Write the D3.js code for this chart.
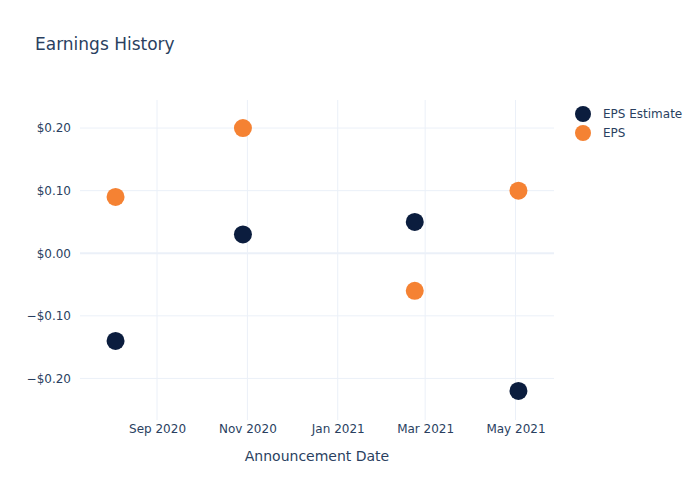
<!DOCTYPE html>
<html><head><meta charset="utf-8">
<script src="https://cdn.jsdelivr.net/npm/d3@7"></script>
<style>body{margin:0;background:#fff}svg{font-family:"DejaVu Sans",Verdana,sans-serif}</style>
</head><body><svg id="c" width="700" height="500"></svg>
<script>
const dates = ["2020-08-04","2020-10-29","2021-02-22","2021-05-03"];
const epsEstimate = [-0.14, 0.03, 0.05, -0.22];
const eps = [0.09, 0.20, -0.06, 0.10];
const seriesNames = ["EPS Estimate","EPS"];
const colors = ["#0b1d3e","#f58233"];
const xTicks = ["2020-09-01","2020-11-01","2021-01-01","2021-03-01","2021-05-01"];
const yTicks = [-0.2,-0.1,0,0.1,0.2];

const parse = d3.utcParse("%Y-%m-%d");
const svg = d3.select("#c");
const L=80,R=554,T=100,B=420;
const x = d3.scaleUtc().domain([parse("2020-07-11"), parse("2021-05-27")]).range([L,R]);
const y = d3.scaleLinear().domain([-0.2664,0.2448]).range([B,T]);
const grid="#ebf0f8", txt="#2a3f5f";

// grid
svg.append("g").selectAll("line").data(xTicks).join("line")
  .attr("x1",d=>x(parse(d))).attr("x2",d=>x(parse(d))).attr("y1",T).attr("y2",B)
  .attr("stroke",grid).attr("stroke-width",1);
svg.append("g").selectAll("line").data(yTicks).join("line")
  .attr("x1",L).attr("x2",R).attr("y1",d=>y(d)).attr("y2",d=>y(d))
  .attr("stroke",grid).attr("stroke-width",d=>d===0?2:1);

// axes
const xAxis = d3.axisBottom(x).tickValues(xTicks.map(parse)).tickFormat(d3.utcFormat("%b %Y")).tickSize(0).tickPadding(4);
const gx = svg.append("g").attr("transform",`translate(0,${B})`).call(xAxis);
gx.select(".domain").remove();
gx.selectAll("text").attr("fill",txt).attr("font-size",12).attr("font-family","DejaVu Sans");

const fmt = d => (d<0?"\u2212":"") + "$" + Math.abs(d).toFixed(2);
const yAxis = d3.axisLeft(y).tickValues(yTicks).tickFormat(fmt).tickSize(0).tickPadding(9);
const gy = svg.append("g").attr("transform",`translate(${L},0)`).call(yAxis);
gy.select(".domain").remove();
gy.selectAll("text").attr("fill",txt).attr("font-size",12).attr("font-family","DejaVu Sans");

// points
const series=[epsEstimate,eps];
series.forEach((vals,i)=>{
  svg.append("g").selectAll("circle").data(vals).join("circle")
    .attr("cx",(d,j)=>x(parse(dates[j]))).attr("cy",d=>y(d)).attr("r",9)
    .attr("fill",colors[i]);
});

// title
svg.append("text").attr("x",35).attr("y",50).attr("font-size",17).attr("fill",txt).text("Earnings History");
svg.append("text").attr("x",(L+R)/2).attr("y",461).attr("text-anchor","middle").attr("font-size",14).attr("fill",txt).text("Announcement Date");

// legend
const lg = svg.append("g");
seriesNames.forEach((n,i)=>{
  lg.append("circle").attr("cx",583).attr("cy",114+i*19).attr("r",8).attr("fill",colors[i]);
  lg.append("text").attr("x",603).attr("y",118+i*19).attr("font-size",12).attr("fill",txt).text(n);
});
</script></body></html>
